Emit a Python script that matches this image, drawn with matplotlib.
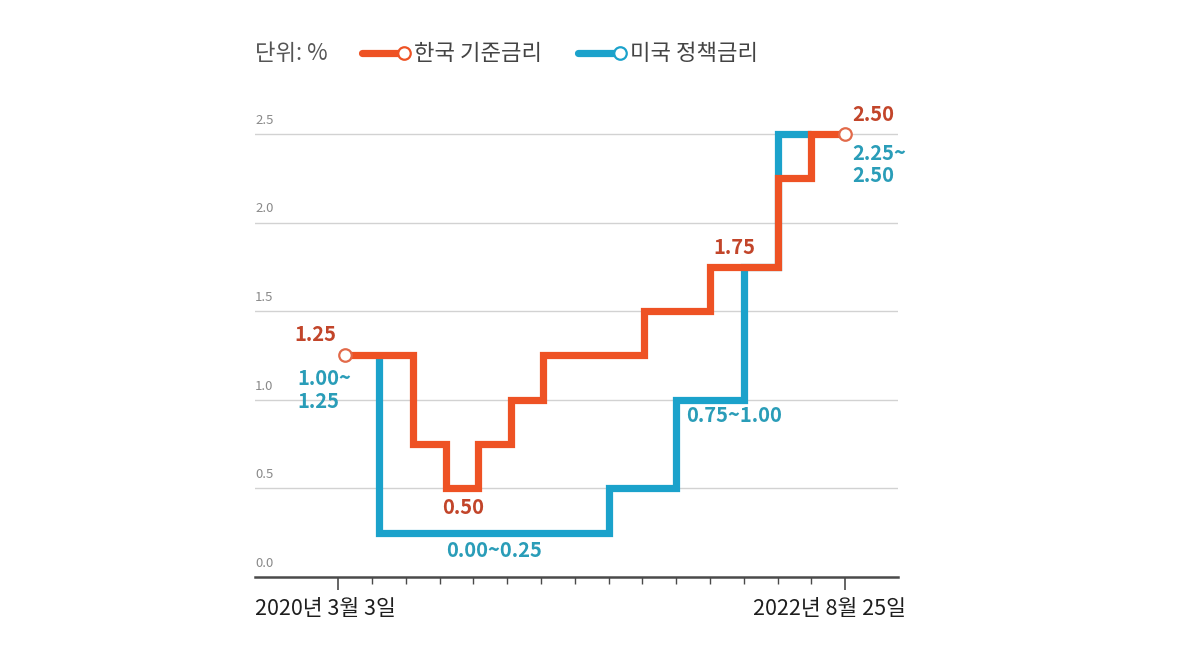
import matplotlib.pyplot as plt
from matplotlib.lines import Line2D

plt.rcParams["font.family"] = ["Noto Sans CJK KR", "DejaVu Sans"]

# x positions are in "tick units": 0 = 2020-03-03, 15 = 2022-08-25
KOREA_X = [0.2, 2.2, 3.2, 4.15, 5.1, 6.05, 9.05, 11, 13, 14, 15]
KOREA_Y = [1.25, 0.75, 0.50, 0.75, 1.00, 1.25, 1.50, 1.75, 2.25, 2.50, 2.50]
US_X = [1.2, 1.2, 8, 10, 12, 13, 14]
US_Y = [1.25, 0.25, 0.50, 1.00, 1.75, 2.50, 2.50]

Y_GRID = [0.0, 0.5, 1.0, 1.5, 2.0, 2.5]
N_TICKS = 16
START_LABEL = "2020년 3월 3일"
END_LABEL = "2022년 8월 25일"

ORANGE = "#EE5224"
BLUE = "#1BA2CB"
ORANGE_TXT = "#C2452A"
BLUE_TXT = "#2A9DB8"

# (text, x, y, color, ha, va)
ANNOTATIONS = [
    ("1.25", -0.05, 1.31, ORANGE_TXT, "right", "bottom"),
    ("1.00~\n1.25", -1.2, 1.18, BLUE_TXT, "left", "top"),
    ("0.50", 3.7, 0.45, ORANGE_TXT, "center", "top"),
    ("0.00~0.25", 4.6, 0.21, BLUE_TXT, "center", "top"),
    ("0.75~1.00", 10.3, 0.97, BLUE_TXT, "left", "top"),
    ("1.75", 11.1, 1.80, ORANGE_TXT, "left", "bottom"),
    ("2.50", 15.2, 2.55, ORANGE_TXT, "left", "bottom"),
    ("2.25~\n2.50", 15.2, 2.45, BLUE_TXT, "left", "top"),
]

fig = plt.figure(figsize=(12, 6.56), dpi=100)
ax = fig.add_axes([0.2125, 0.1204, 0.536, 0.716])
ax.set_xlim(-2.46, 16.57)
ax.set_ylim(0, 2.65)

for v in Y_GRID[1:]:
    ax.axhline(v, color="#D2D2D2", linewidth=1.0, zorder=1)
for v in Y_GRID:
    ax.text(0.0, v + 0.04, "{:.1f}".format(v), transform=ax.get_yaxis_transform(),
            fontsize=9.5, color="#8A8A8A", ha="left", va="bottom")

ax.plot(US_X, US_Y, drawstyle="steps-post", color=BLUE, linewidth=5.2,
        solid_joinstyle="miter", solid_capstyle="butt", zorder=3)
ax.plot(KOREA_X, KOREA_Y, drawstyle="steps-post", color=ORANGE, linewidth=5.2,
        solid_joinstyle="miter", solid_capstyle="butt", zorder=4)
ax.plot([KOREA_X[0], KOREA_X[-1]], [KOREA_Y[0], KOREA_Y[-1]], linestyle="none",
        marker="o", markersize=9, markerfacecolor="white",
        markeredgecolor="#E26A4A", markeredgewidth=1.6, zorder=5)

for text, x, y, color, ha, va in ANNOTATIONS:
    ax.text(x, y, text, color=color, fontsize=14.5, fontweight="bold",
            ha=ha, va=va, linespacing=1.1, zorder=6)

for side in ["top", "right", "left"]:
    ax.spines[side].set_visible(False)
ax.spines["bottom"].set_color("#4A4A4A")
ax.spines["bottom"].set_linewidth(1.8)
ax.set_yticks([])
ax.set_xticks([0, N_TICKS - 1])
ax.set_xticks(range(1, N_TICKS - 1), minor=True)
ax.tick_params(axis="x", which="major", length=9, width=1.2, color="#4A4A4A", labelbottom=False)
ax.tick_params(axis="x", which="minor", length=5, width=1.0, color="#4A4A4A")

ax.text(0.0, -0.045, START_LABEL, transform=ax.transAxes, fontsize=15.5,
        fontweight="medium", color="#1E1E1E", ha="left", va="top")
ax.text(1.012, -0.045, END_LABEL, transform=ax.transAxes, fontsize=15.5,
        fontweight="medium", color="#1E1E1E", ha="right", va="top")

# legend row
fig.text(0.2125, 0.919, "단위: %", fontsize=16, color="#555555", ha="left", va="center")
for x0, color, label in [(0.302, ORANGE, "한국 기준금리"), (0.482, BLUE, "미국 정책금리")]:
    fig.add_artist(Line2D([x0, x0 + 0.033], [0.919, 0.919], transform=fig.transFigure,
                          color=color, linewidth=5.2, solid_capstyle="round"))
    fig.add_artist(Line2D([x0 + 0.035], [0.919], transform=fig.transFigure,
                          marker="o", markersize=9, markerfacecolor="white",
                          markeredgecolor=color, markeredgewidth=1.6))
    fig.text(x0 + 0.043, 0.919, label, fontsize=16, color="#444444", ha="left", va="center")

fig.savefig("out.png", dpi=100)
